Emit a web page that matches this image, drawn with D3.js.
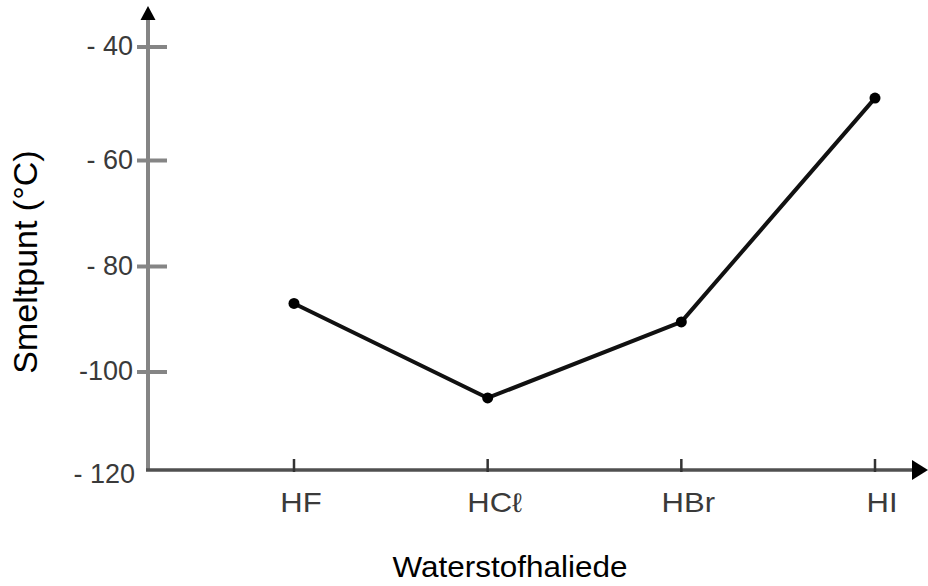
<!DOCTYPE html>
<html>
<head>
<meta charset="utf-8">
<script src="https://cdn.jsdelivr.net/npm/d3@7"></script>
<style>
  body { margin: 0; background: #fff; }
  text { font-family: "Liberation Sans", Arial, sans-serif; }
</style>
</head>
<body>
<script>
const width = 928;
const height = 586;

// data
const compounds = ["HF", "HCℓ", "HBr", "HI"];
const meltingPoints = [-87, -105.3, -90.5, -49];
const yTicks = [-120, -100, -80, -60, -40];
const yTickLabels = ["- 120", "-100", "- 80", "- 60", "- 40"];

const svg = d3
  .select("body")
  .append("svg")
  .attr("width", width)
  .attr("height", height);

const axisX = 148;
const axisY = 470;

// the hand drawn axis is not quite even, so the scale follows its ticks
const y = d3
  .scaleLinear()
  .domain(yTicks)
  .range([470, 372, 266.5, 160.5, 47]);

const x = d3.scalePoint().domain(compounds).range([294, 875]);

// y axis + arrow head
svg
  .append("line")
  .attr("x1", axisX)
  .attr("y1", axisY)
  .attr("x2", axisX)
  .attr("y2", 18)
  .attr("stroke", "#858585")
  .attr("stroke-width", 4);

svg
  .append("path")
  .attr("d", d3.line()([[axisX - 7.5, 20], [axisX, 6], [axisX + 7.5, 20]]) + "Z")
  .attr("fill", "#000");

// x axis + arrow head
svg
  .append("line")
  .attr("x1", axisX - 2)
  .attr("y1", axisY)
  .attr("x2", 914)
  .attr("y2", axisY)
  .attr("stroke", "#505050")
  .attr("stroke-width", 3.5);

svg
  .append("path")
  .attr("d", d3.line()([[912, axisY - 10], [928, axisY], [912, axisY + 10]]) + "Z")
  .attr("fill", "#000");

// y ticks (not at the bottom)
svg
  .selectAll(".ytick")
  .data(yTicks.filter((d) => d > -120))
  .enter()
  .append("line")
  .attr("x1", axisX - 11)
  .attr("x2", axisX + 19)
  .attr("y1", (d) => y(d))
  .attr("y2", (d) => y(d))
  .attr("stroke", "#858585")
  .attr("stroke-width", 4);

svg
  .selectAll(".ylabel")
  .data(yTicks)
  .enter()
  .append("text")
  .attr("x", (d) => (d === -120 ? 135 : 133))
  .attr("y", (d) => (d === -120 ? y(d) + 4 : y(d) - 1))
  .attr("dy", "0.35em")
  .attr("text-anchor", "end")
  .attr("font-size", 27)
  .attr("fill", "#3a3a3a")
  .text((d, i) => yTickLabels[i]);

// x ticks
svg
  .selectAll(".xtick")
  .data(compounds)
  .enter()
  .append("line")
  .attr("x1", (d) => x(d))
  .attr("x2", (d) => x(d))
  .attr("y1", axisY - 11)
  .attr("y2", axisY + 2)
  .attr("stroke", "#333")
  .attr("stroke-width", 2.5);

svg
  .selectAll(".xlabel")
  .data(compounds)
  .enter()
  .append("text")
  .attr("transform", (d) => `translate(${x(d) + 7},512) scale(1.15,1)`)
  .attr("text-anchor", "middle")
  .attr("font-size", 27)
  .attr("fill", "#3a3a3a")
  .text((d) => d);

// the line and the dots
const points = compounds.map((c, i) => [x(c), y(meltingPoints[i])]);

svg
  .append("path")
  .attr("d", d3.line()(points))
  .attr("fill", "none")
  .attr("stroke", "#111")
  .attr("stroke-width", 4)
  .attr("stroke-linejoin", "round");

svg
  .selectAll(".dot")
  .data(points)
  .enter()
  .append("circle")
  .attr("cx", (d) => d[0])
  .attr("cy", (d) => d[1])
  .attr("r", 5.5)
  .attr("fill", "#000");

// axis titles
svg
  .append("text")
  .attr("transform", "translate(37,262) rotate(-90)")
  .attr("text-anchor", "middle")
  .attr("font-size", 34)
  .attr("fill", "#000")
  .text("Smeltpunt (°C)");

svg
  .append("text")
  .attr("x", 510)
  .attr("y", 577)
  .attr("text-anchor", "middle")
  .attr("font-size", 30)
  .attr("textLength", 235)
  .attr("lengthAdjust", "spacingAndGlyphs")
  .attr("fill", "#000")
  .text("Waterstofhaliede");
</script>
</body>
</html>
